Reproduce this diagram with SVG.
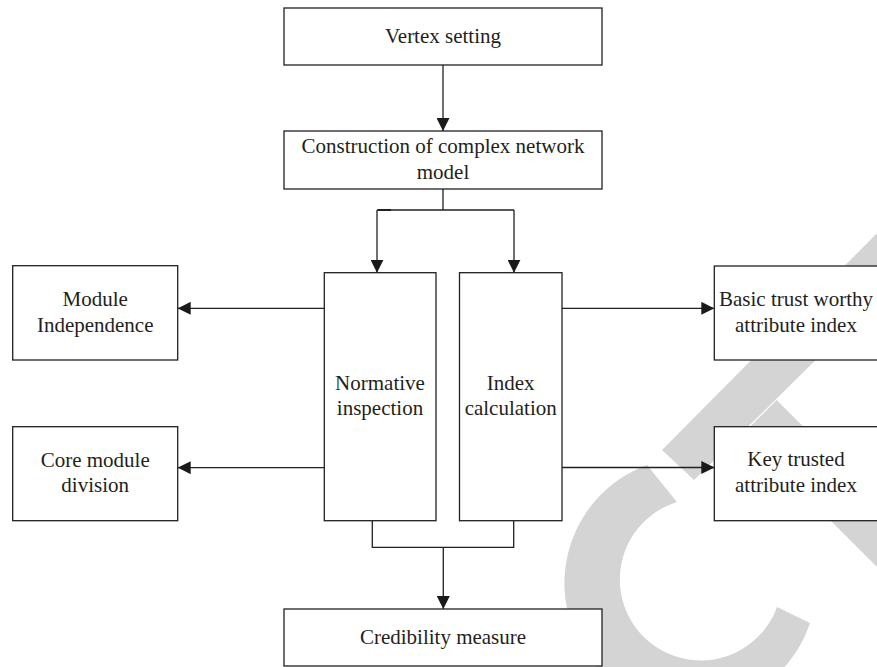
<svg xmlns="http://www.w3.org/2000/svg" width="877" height="667" viewBox="0 0 877 667">
<style>
.box{fill:#fff;stroke:#231f20;stroke-width:1.3}
.t{font-family:"Liberation Serif","Times New Roman",serif;font-size:21px;fill:#231f20;text-anchor:middle}
.c{fill:none;stroke:#231f20;stroke-width:1.3}
.wm{fill:#d4d4d4}
</style>
<defs>
<marker id="ah" markerUnits="userSpaceOnUse" markerWidth="13" markerHeight="13" refX="13" refY="6.5" orient="auto">
<path d="M0,0 L13,6.5 L0,13 z" fill="#1a1a1a"/>
</marker>
</defs>
<rect width="877" height="667" fill="#fff"/>
<g id="watermark">
<polygon class="wm" points="662,450 694,480 900,276.7 900,210"/>
<polygon class="wm" points="776.7,400 743.3,433.3 900,590 900,523.3"/>
<path class="wm" d="M647,465 L677,502 A81,81 0 1 0 777,607 L810,623 A126,126 0 1 1 647,465 Z"/>
</g>
<g id="connectors">
<line class="c" x1="443" y1="65" x2="443" y2="131" marker-end="url(#ah)"/>
<polyline class="c" points="443,189 443,210"/>
<polyline class="c" points="377,210 514,210"/>
<line class="c" x1="377" y1="210" x2="377" y2="272.7" marker-end="url(#ah)"/>
<line class="c" x1="514" y1="210" x2="514" y2="272.7" marker-end="url(#ah)"/>
<line x1="378" y1="210" x2="391" y2="210" stroke="#231f20" stroke-width="2"/>
<line class="c" x1="324.3" y1="308.3" x2="177.7" y2="308.3" marker-end="url(#ah)"/>
<line class="c" x1="324.3" y1="467.7" x2="177.7" y2="467.7" marker-end="url(#ah)"/>
<line class="c" x1="562" y1="308.3" x2="714.3" y2="308.3" marker-end="url(#ah)"/>
<line class="c" x1="562" y1="467.5" x2="714.3" y2="467.5" marker-end="url(#ah)"/>
<polyline class="c" points="372.3,520.7 372.3,547.3 513.7,547.3 513.7,520.7"/>
<line class="c" x1="443.3" y1="547.3" x2="443.3" y2="609" marker-end="url(#ah)"/>
</g>
<g id="vertex-setting">
<rect class="box" x="284" y="8" width="318" height="57"/>
<text class="t" x="443" y="43">Vertex setting</text>
</g>
<g id="construction">
<rect class="box" x="284" y="131" width="318" height="58"/>
<text class="t" x="443" y="153">Construction of complex network</text>
<text class="t" x="443" y="179">model</text>
</g>
<g id="normative-inspection">
<rect class="box" x="324.3" y="272.7" width="111.7" height="248"/>
<text class="t" x="380" y="390">Normative</text>
<text class="t" x="380" y="415">inspection</text>
</g>
<g id="index-calculation">
<rect class="box" x="459.5" y="272.7" width="102.5" height="248"/>
<text class="t" x="510.7" y="390">Index</text>
<text class="t" x="510.7" y="415">calculation</text>
</g>
<g id="module-independence">
<rect class="box" x="12.7" y="265.7" width="165" height="94.3"/>
<text class="t" x="95.2" y="306">Module</text>
<text class="t" x="95.2" y="332">Independence</text>
</g>
<g id="core-module-division">
<rect class="box" x="12.7" y="426.7" width="165" height="94"/>
<text class="t" x="95.2" y="467">Core module</text>
<text class="t" x="95.2" y="492">division</text>
</g>
<g id="basic-trust-worthy">
<rect class="box" x="714.3" y="266" width="164" height="94"/>
<text class="t" x="796" y="306">Basic trust worthy</text>
<text class="t" x="796" y="332">attribute index</text>
</g>
<g id="key-trusted">
<rect class="box" x="714.3" y="426.7" width="164" height="94"/>
<text class="t" x="796" y="466">Key trusted</text>
<text class="t" x="796" y="492">attribute index</text>
</g>
<g id="credibility-measure">
<rect class="box" x="284" y="609" width="318" height="57"/>
<text class="t" x="443" y="644">Credibility measure</text>
</g>
</svg>
